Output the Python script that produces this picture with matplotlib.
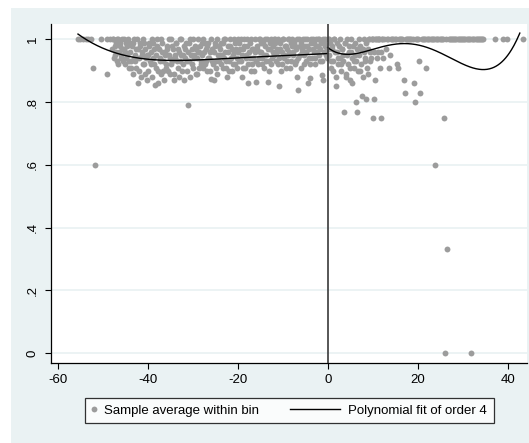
import numpy as np
import matplotlib.pyplot as plt
from matplotlib.legend_handler import HandlerLine2D
from matplotlib.lines import Line2D
from matplotlib.patches import Rectangle

plt.rcParams['font.family'] = ['Liberation Sans', 'DejaVu Sans']
plt.rcParams['axes.unicode_minus'] = False

# binned sample averages left of the cutoff, bins 0.125 wide;
# even bins start at -47.875, odd bins at -47.75 (both stepping 0.25)
left_start = -47.875
bin_w = 0.25
left_y = [
    0.97, 1, 0.95, 0.99, 0.93, 1, 0.96, 0.98, 0.94, 1, 0.97, 0.92, 0.99, 0.95, 1, 0.93,
    0.96, 0.91, 0.99, 0.94, 0.93, 0.97, 1, 0.86, 0.90, 0.98, 0.95, 0.92, 0.99, 0.89, 0.94, 0.87,
    0.95, 0.99, 0.92, 1, 0.94, 0.97, 0.855, 0.91, 0.98, 0.86, 0.93, 1, 0.96, 0.90, 0.87, 0.95,
    0.92, 0.98, 0.95, 0.89, 1, 0.93, 0.97, 0.87, 0.94, 0.99, 0.91, 0.96, 0.93, 1, 0.90, 0.95,
    0.87, 0.97, 0.93, 0.79, 0.99, 0.88, 0.95, 0.92, 1, 0.94, 0.97, 0.89, 0.96, 0.91, 0.98, 0.93,
    0.95, 1, 0.92, 0.97, 0.90, 0.99, 0.94, 0.96, 0.875, 0.93, 0.87, 0.98, 0.91, 1, 0.95, 0.93,
    0.97, 0.92, 0.99, 0.94, 1, 0.91, 0.88, 0.96, 0.93, 0.98, 0.90, 0.95, 1, 0.92, 0.97, 0.94,
    0.96, 0.99, 0.93, 0.88, 0.97, 1, 0.91, 0.95, 0.98, 0.86, 0.94, 1, 0.92, 0.97, 0.90, 0.96,
    0.865, 0.98, 0.94, 1, 0.96, 0.92, 0.99, 0.95, 1, 0.93, 0.865, 0.90, 0.97, 1, 0.94, 0.98,
    0.95, 1, 0.97, 0.92, 0.85, 0.99, 0.90, 0.96, 1, 0.94, 0.98, 0.93, 1, 0.96, 0.91, 0.99,
    1, 0.96, 0.98, 0.93, 0.88, 0.84, 1, 0.95, 0.99, 0.97, 0.92, 1, 0.96, 0.98, 0.86, 0.94,
    0.876, 1, 0.97, 0.99, 0.94, 1, 0.96, 0.98, 1, 0.93, 0.886, 0.87, 0.99, 1, 0.95, 0.97,
]
left_y_odd = [
    1, 0.94, 0.98, 0.96, 1, 0.92, 0.99, 0.95, 0.97, 0.93, 1, 0.96, 0.94, 0.98, 0.91, 0.99,
    0.93, 0.98, 0.89, 1, 0.95, 0.91, 0.97, 0.94, 0.99, 0.88, 0.96, 1, 0.92, 0.97, 0.95, 0.90,
    0.98, 0.93, 0.96, 0.88, 0.99, 0.92, 0.95, 1, 0.90, 0.97, 0.94, 0.89, 0.99, 0.93, 0.96, 0.91,
    0.97, 0.90, 1, 0.94, 0.92, 0.98, 0.89, 0.95, 0.99, 0.93, 0.97, 0.88, 1, 0.95, 0.92, 0.98,
    0.94, 0.99, 0.90, 0.96, 0.93, 1, 0.97, 0.91, 0.95, 0.98, 0.89, 0.94, 1, 0.96, 0.92, 0.99,
    0.91, 0.96, 0.99, 0.93, 0.98, 0.94, 0.90, 1, 0.97, 0.92, 0.96, 0.99, 0.93, 0.89, 0.98, 0.95,
    0.99, 0.95, 0.91, 1, 0.96, 0.93, 0.98, 0.90, 1, 0.94, 0.97, 0.92, 0.96, 0.99, 0.91, 1,
    0.93, 0.97, 1, 0.95, 0.91, 0.98, 0.94, 1, 0.92, 0.96, 0.99, 0.90, 0.97, 0.94, 1, 0.93,
    0.97, 0.92, 1, 0.96, 0.99, 0.94, 0.91, 0.98, 0.95, 1, 0.97, 0.93, 0.99, 0.92, 0.96, 1,
    0.99, 0.93, 0.96, 1, 0.94, 0.97, 0.92, 1, 0.95, 0.98, 0.91, 0.97, 0.95, 1, 0.93, 0.98,
    0.95, 0.99, 0.92, 0.97, 1, 0.94, 0.98, 0.91, 0.96, 1, 0.95, 0.98, 0.93, 1, 0.97, 0.92,
    0.99, 0.94, 1, 0.96, 0.92, 0.98, 1, 0.95, 0.97, 0.99, 0.93, 1, 0.96, 0.98, 0.94, 1,
]
# sparse bins at the far left
left_extra_x = [-55.6, -55.0, -54.4, -53.8, -53.2, -52.6, -52.2, -51.7, -50.3, -49.1, -49.0, -48.4]
left_extra_y = [1, 1, 1, 1, 1, 1, 0.91, 0.60, 1, 0.89, 1, 1]

# right of the cutoff (even bins from 0.125, odd bins from 0.25, step 0.25)
right_start = 0.125
right_y = [
    0.97, 1, 0.93, 0.98, 0.90, 1, 0.96, 0.85, 0.99, 0.94,
    1, 0.92, 0.97, 0.95, 0.77, 0.99, 0.88, 1, 0.96, 0.91,
    1, 0.86, 0.98, 0.93, 0.95, 0.80, 0.77, 1, 0.90, 0.97,
    0.82, 0.97, 1, 0.93, 0.81, 0.89, 1, 0.96, 0.94, 1,
    0.75, 0.81, 0.87, 1, 0.96, 1, 0.91, 0.75, 1, 0.94,
    1, 0.97, 1, 1, 0.91, 0.95, 1, 1, 1, 1,
    1, 0.92, 0.91, 1, 1, 1, 1, 0.87, 0.83, 1,
    1, 1, 1, 1, 1, 1, 0.86, 0.80, 1, 1,
    1, 0.93, 0.83, 1, 1, 1, 1, 0.91, 1, 1,
    1, 1, 1, 1, 1, 0.60, 1, 1, 1, 1,
    1, 1, 1, 0.75, 0, 1, 0.333, 1, 1, 1,
    1, 1, 1, 1, 1, 1, 1, 1, 1, 1,
    1, 1, 1, 1, 1, 1, 1, 0, 1, 1,
    1, 1, 1, 1, 1, 1, 1, 1, 1,
]
right_y_odd = [
    0.95, 0.99, 0.91, 0.97, 0.93, 1, 0.88, 0.96, 0.92, 0.98, 0.94, 0.90,
    0.97, 0.93, 0.99, 0.89, 0.95, 0.92, 0.98, 0.87, 0.96, 0.94, 0.91, 0.99,
    0.93, 0.97, 0.90, 0.95, 0.98, 0.92, 0.88, 0.96, 0.94, 0.99, 0.91, 0.97,
    1, 0.93, 1, 1, 0.96, 1, 1, 0.94, 1, 1, 0.96, 1,
]
right_extra_x = [37.2, 38.9, 39.8, 43.3]
right_extra_y = [1, 1, 1, 1]

# points
left_fit_x = [-55.5, -49.0, -41.7, -32.0, -20.0, -10.0, 0.0]
left_fit_y = [1.017, 0.966, 0.940, 0.933, 0.941, 0.948, 0.955]
right_fit_x = [0.0, 4.2, 9.4, 13.1, 18.3, 27.9, 35.3, 39.8, 42.7]
right_fit_y = [0.976, 0.947, 0.971, 0.979, 0.985, 0.936, 0.904, 0.947, 1.019]

left_x = left_start + bin_w * np.arange(len(left_y))
left_x_odd = left_start + bin_w / 2 + bin_w * np.arange(len(left_y_odd))
right_x = right_start + bin_w * np.arange(len(right_y))
right_x_odd = right_start + bin_w / 2 + bin_w * np.arange(len(right_y_odd))

dot_col = '#9c9c9c'
bg_col = '#eaf2f3'

fig = plt.figure(figsize=(5.29, 4.43), dpi=100)
fig.patches.append(Rectangle((11 / 529, 0), 1, 1 - 8 / 443, transform=fig.transFigure,
                             facecolor=bg_col, edgecolor='none', zorder=-10))
ax = fig.add_axes([51 / 529, 1 - 363 / 443, 476 / 529, 339 / 443])
ax.set_facecolor('white')

sc_kw = dict(s=18, color=dot_col, linewidths=0, zorder=3)
ax.scatter(left_extra_x, left_extra_y, **sc_kw)
ax.scatter(left_x, left_y, **sc_kw)
ax.scatter(left_x_odd, left_y_odd, **sc_kw)
ax.scatter(right_x, right_y, **sc_kw)
ax.scatter(right_x_odd, right_y_odd, **sc_kw)
ax.scatter(right_extra_x, right_extra_y, **sc_kw)

pl = np.polyfit(left_fit_x, left_fit_y, 4)
xl = np.linspace(left_fit_x[0], left_fit_x[-1], 300)
ax.plot(xl, np.polyval(pl, xl), color='black', lw=1.0, zorder=4)
pr = np.polyfit(right_fit_x, right_fit_y, 4)
xr = np.linspace(right_fit_x[0], right_fit_x[-1], 300)
ax.plot(xr, np.polyval(pr, xr), color='black', lw=1.0, zorder=4)

ax.axvline(0, color='#3a3a3a', lw=1.2, zorder=5)

ax.set_xlim(-61.5, 44.3)
ax.set_ylim(-0.031, 1.049)
ax.set_xticks([-60, -40, -20, 0, 20, 40])
ax.set_yticks([0, 0.2, 0.4, 0.6, 0.8, 1])
ax.set_yticklabels(['0', '.2', '.4', '.6', '.8', '1'], rotation=90, va='center')
ax.tick_params(labelsize=9.5, length=4, width=0.8, pad=4, color='black')
ax.tick_params(axis='y', pad=5)
ax.grid(axis='y', color=bg_col, lw=1.3, zorder=0)
ax.set_axisbelow(True)
for s in ['top', 'right']:
    ax.spines[s].set_visible(False)
for s in ['left', 'bottom']:
    ax.spines[s].set_linewidth(0.9)


class WideLineHandler(HandlerLine2D):
    # draw the line key extending to the left, into the column gap
    def create_artists(self, legend, orig_handle, xdescent, ydescent, width, height, fontsize, trans):
        ext = 33
        return super().create_artists(legend, orig_handle, xdescent + ext, ydescent,
                                      width + ext, height, fontsize, trans)


h_dot = Line2D([], [], ls='none', marker='o', ms=4.2, color=dot_col, mec='none')
h_line = Line2D([], [], color='black', lw=1.0)
leg = fig.legend([h_dot, h_line], ['Sample average within bin', 'Polynomial fit of order 4'],
                 ncol=2, loc='upper left', bbox_to_anchor=(85 / 529, 1 - 398 / 443),
                 fontsize=9.5, frameon=True, fancybox=False, edgecolor='black',
                 handlelength=0.3, handletextpad=0.65, columnspacing=5.8,
                 borderpad=0.5, borderaxespad=0, numpoints=1,
                 handler_map={h_line: WideLineHandler()})
leg.get_frame().set_linewidth(0.9)

fig.savefig('out.png', dpi=100)
